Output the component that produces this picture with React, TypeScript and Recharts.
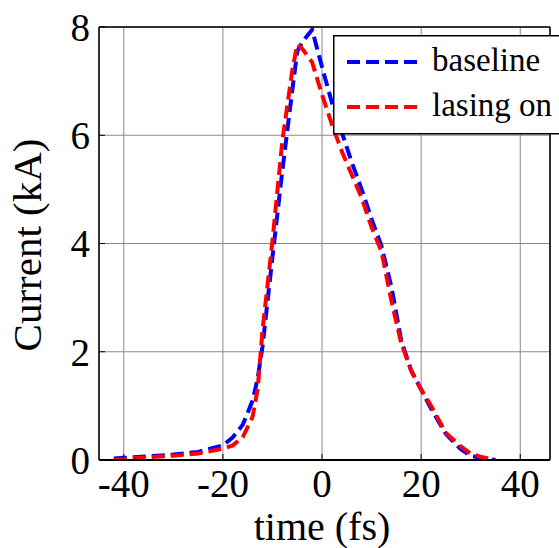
import {
  LineChart,
  Line,
  XAxis,
  YAxis,
  CartesianGrid,
  Legend,
  Label,
} from "recharts";

// time axis (fs) shared by both current profiles
const time = [
  -42, -40, -35, -30, -25, -20, -18, -16, -14, -13, -12, -10, -8, -6, -5, -4,
  -2, 0, 2, 4, 6, 8, 10, 12, 14, 16, 18, 20, 22, 25, 28, 30, 32, 35,
];

// current (kA)
const baseline = [
  0.03, 0.04, 0.07, 0.1, 0.15, 0.27, 0.42, 0.65, 1.1, 1.5, 2.1, 3.75, 5.35,
  6.83, 7.55, 7.72, 7.95, 7.26, 6.6, 6.05, 5.5, 5.0, 4.45, 3.95, 3.2, 2.2,
  1.65, 1.3, 0.95, 0.48, 0.2, 0.08, 0.04, 0.0,
];

const lasingOn = [
  0.0, 0.02, 0.05, 0.08, 0.12, 0.21, 0.27, 0.42, 0.8, 1.3, 2.4, 4.05, 5.9,
  7.2, 7.68, 7.6, 7.35, 6.75, 6.2, 5.7, 5.27, 4.84, 4.3, 3.85, 2.94, 2.15,
  1.65, 1.3, 1.0, 0.5, 0.25, 0.12, 0.06, 0.0,
];

const xTicks = [-40, -20, 0, 20, 40];
const yTicks = [0, 2, 4, 6, 8];

const data = time.map((t, i) => ({
  t,
  baseline: baseline[i],
  lasing: lasingOn[i],
}));

const font = "Liberation Serif, Times New Roman, serif";
const tickStyle = { fontSize: 39, fill: "#000", style: { fontFamily: font } };

function LegendBox(props: any) {
  const items = props.payload || [];
  return (
    <svg width={240} height={100} style={{ display: "block", fontFamily: font }}>
      <rect x={0.75} y={0.75} width={238} height={98} fill="#fff" stroke="#000" strokeWidth={1.5} />
      {items.map((p: any, i: number) => {
        const y = 27 + i * 45;
        return (
          <g key={p.value}>
            <line
              x1={14}
              x2={87}
              y1={y}
              y2={y}
              stroke={p.color}
              strokeWidth={4}
              strokeDasharray="13 6"
            />
            <text x={99} y={y + 9} fontSize={33} style={{ fontFamily: font }} fill="#000">
              {p.value}
            </text>
          </g>
        );
      })}
    </svg>
  );
}

export default function App() {
  return (
    <div
      style={{
        position: "absolute",
        left: 0,
        top: 0,
        width: 559,
        height: 548,
        overflow: "hidden",
        background: "#fff",
        fontFamily: font,
      }}
    >
      <LineChart
        width={559}
        height={548}
        data={data}
        margin={{ top: 26, right: 8, bottom: 0, left: 0 }}
        style={{ fontFamily: font }}
      >
        <CartesianGrid stroke="#8a8a8a" strokeWidth={1} />

        <XAxis
          dataKey="t"
          type="number"
          domain={[-45, 46]}
          ticks={xTicks}
          allowDataOverflow
          height={88}
          tickSize={-6}
          tickMargin={15}
          tick={tickStyle}
          axisLine={{ stroke: "#000", strokeWidth: 2 }}
          tickLine={{ stroke: "#000" }}
        >
          <Label
            content={() => (
              <text x={322} y={540} textAnchor="middle" fontSize={40} style={{ fontFamily: font }} fill="#000">
                time (fs)
              </text>
            )}
          />
        </XAxis>
        <XAxis
          xAxisId="top"
          orientation="top"
          type="number"
          domain={[-45, 46]}
          ticks={xTicks}
          allowDataOverflow
          height={1}
          tickSize={-5}
          tick={false}
          axisLine={{ stroke: "#000", strokeWidth: 1.5 }}
          tickLine={{ stroke: "#000" }}
        />

        <YAxis
          type="number"
          domain={[0, 8]}
          ticks={yTicks}
          allowDataOverflow
          width={99}
          tickSize={-6}
          tickMargin={15}
          tick={tickStyle}
          axisLine={{ stroke: "#000", strokeWidth: 1.5 }}
          tickLine={{ stroke: "#000" }}
        >
          <Label
            content={() => (
              <text
                x={41}
                y={245}
                transform="rotate(-90 41 245)"
                textAnchor="middle"
                fontSize={41}
                style={{ fontFamily: font }}
                fill="#000"
              >
                Current (kA)
              </text>
            )}
          />
        </YAxis>
        <YAxis
          yAxisId="right"
          orientation="right"
          type="number"
          domain={[0, 8]}
          ticks={yTicks}
          width={1}
          tickSize={-5}
          tick={false}
          axisLine={{ stroke: "#000", strokeWidth: 1.5 }}
          tickLine={{ stroke: "#000" }}
        />

        <Legend
          layout="vertical"
          align="center"
          verticalAlign="middle"
          content={<LegendBox />}
          wrapperStyle={{ left: 333, top: 35, width: 240, height: 100 }}
        />

        <Line
          type="linear"
          dataKey="baseline"
          name="baseline"
          stroke="#0000ff"
          strokeWidth={4}
          strokeDasharray="13 6"
          dot={false}
          isAnimationActive={false}
        />
        <Line
          type="linear"
          dataKey="lasing"
          name="lasing on"
          stroke="#ff0000"
          strokeWidth={4}
          strokeDasharray="13 6"
          dot={false}
          isAnimationActive={false}
        />
      </LineChart>
    </div>
  );
}
